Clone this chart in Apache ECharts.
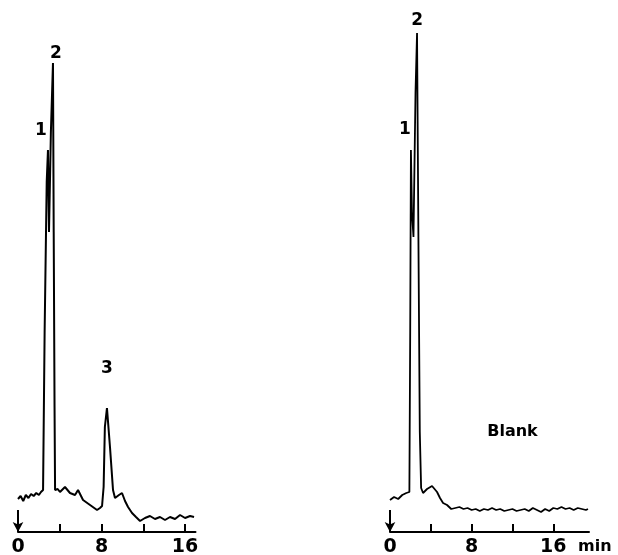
<!DOCTYPE html>
<html>
<head>
<meta charset="utf-8">
<script src="https://cdn.jsdelivr.net/npm/echarts@6/dist/echarts.min.js"></script>
<style>html,body{margin:0;padding:0;background:#fff}#c{width:618px;height:555px}</style>
</head>
<body>
<div id="c"></div>
<script>
// Sample chromatogram: [time (min), detector response (arb. units)]
const sampleTrace = [
  [0.0,6.6],[0.25,7.2],[0.5,6.2],[0.75,7.4],[1.0,6.8],[1.25,7.6],[1.5,7.2],[1.75,7.8],[2.0,7.4],[2.2,8.0],
  [2.4,8.4],[2.55,40],[2.75,70],[2.87,76.4],[2.97,60],[3.15,80],[3.35,93.8],[3.42,60],[3.5,25],[3.55,8.4],
  [3.8,8.6],[4.02,8.0],[4.5,9.0],[4.98,7.8],[5.46,7.4],[5.75,8.4],[6.23,6.4],[6.9,5.4],[7.57,4.4],[7.85,4.8],
  [8.05,5.2],[8.2,9],[8.32,21.0],[8.52,24.8],[8.81,17.0],[9.1,8.4],[9.29,6.8],[9.67,7.4],[9.96,7.8],[10.25,6.2],
  [10.54,5.0],[10.92,3.8],[11.3,3.0],[11.69,2.2],[12.16,2.8],[12.64,3.2],[13.12,2.6],[13.6,3.0],[14.08,2.4],
  [14.56,3.0],[15.04,2.6],[15.52,3.4],[16.0,2.8],[16.48,3.2],[16.86,3.0]
];
// Blank chromatogram
const blankTrace = [
  [0.0,6.4],[0.4,7.0],[0.8,6.6],[1.2,7.4],[1.6,7.8],[1.9,8.0],[1.98,40],[2.05,76.4],[2.15,64],[2.3,59],
  [2.5,88],[2.65,99.8],[2.78,60],[2.92,20],[3.05,8.8],[3.24,7.8],[3.63,8.6],[4.12,9.2],[4.61,8.0],[4.9,6.8],
  [5.2,5.8],[5.59,5.4],[6.0,4.6],[6.4,4.8],[6.8,5.0],[7.2,4.6],[7.6,4.8],[8.0,4.4],[8.4,4.6],[8.8,4.2],
  [9.2,4.6],[9.6,4.4],[10.0,4.8],[10.4,4.4],[10.8,4.6],[11.2,4.2],[11.6,4.4],[12.0,4.6],[12.4,4.2],[12.8,4.4],
  [13.2,4.6],[13.6,4.2],[14.0,4.8],[14.4,4.4],[14.8,4.0],[15.2,4.6],[15.6,4.2],[16.0,4.8],[16.4,4.6],[16.8,5.0],
  [17.2,4.6],[17.6,4.8],[18.0,4.4],[18.4,4.8],[18.8,4.6],[19.2,4.4],[19.4,4.6]
];
const tickValues = [4, 8, 12, 16];
const tickLabels = [0, 8, 16];
const samplePeakLabels = [['1', 2.2, 80.2], ['2', 3.64, 95.6], ['3', 8.52, 32.6]];
const blankPeakLabels = [['1', 1.47, 80.4], ['2', 2.65, 102.2], ['Blank', 12.0, 20.0]];
const injectionMark = { sample: [0, 4.4], blank: [0, 4.4] };

const FONT = 'DejaVu Sans';
function xAx(gi, max) {
  return {
    type: 'value', gridIndex: gi, min: 0, max: max,
    axisLine: { lineStyle: { color: '#000', width: 2 } },
    axisTick: { inside: true, length: 8, customValues: tickValues, lineStyle: { color: '#000', width: 2 } },
    axisLabel: { customValues: tickLabels, color: '#000', fontSize: 19, fontWeight: 'bold', fontFamily: FONT, margin: 6 },
    splitLine: { show: false }
  };
}
function yAx(gi) {
  return { type: 'value', gridIndex: gi, min: 0, max: 104, show: false };
}
function peakMarks(list) {
  return {
    symbol: 'circle', symbolSize: 0,
    label: { show: true, position: 'inside', color: '#000', fontWeight: 'bold', fontFamily: FONT,
      formatter: p => p.name },
    data: list.map(d => ({ name: d[0], coord: [d[1], d[2]],
      label: { fontSize: d[0] === 'Blank' ? 16 : 17 } }))
  };
}
function arrow(pt) {
  return {
    symbol: ['none', 'arrow'], symbolSize: [8, 10], silent: true,
    label: { show: false },
    lineStyle: { color: '#000', width: 2, type: 'solid' },
    data: [[{ coord: pt }, { coord: [pt[0], 0] }]]
  };
}
const chart = echarts.init(document.getElementById('c'), null, { renderer: 'canvas' });
chart.setOption({
  animation: false,
  backgroundColor: '#fff',
  grid: [
    { left: 18, width: 177.5, top: 12, bottom: 23, containLabel: false, outerBoundsMode: 'none' },
    { left: 390, width: 199, top: 12, bottom: 23, containLabel: false, outerBoundsMode: 'none' }
  ],
  xAxis: [xAx(0, 17), xAx(1, 19.5)],
  yAxis: [yAx(0), yAx(1)],
  graphic: [
    { type: 'text', left: 578, top: 539, style: { text: 'min', fill: '#000', font: 'bold 16px "DejaVu Sans"' } }
  ],
  series: [
    { type: 'line', xAxisIndex: 0, yAxisIndex: 0, data: sampleTrace, showSymbol: false, clip: false,
      lineStyle: { color: '#000', width: 2 }, markPoint: peakMarks(samplePeakLabels), markLine: arrow(injectionMark.sample) },
    { type: 'line', xAxisIndex: 1, yAxisIndex: 1, data: blankTrace, showSymbol: false, clip: false,
      lineStyle: { color: '#000', width: 1.8 }, markPoint: peakMarks(blankPeakLabels), markLine: arrow(injectionMark.blank) }
  ]
});
</script>
</body>
</html>
